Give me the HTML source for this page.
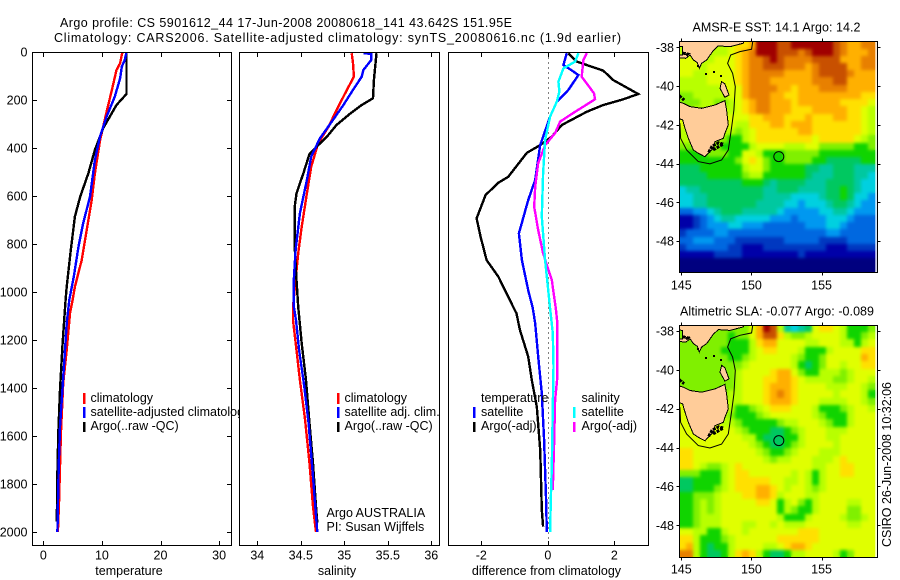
<!DOCTYPE html>
<html lang="en">
<head>
<meta charset="utf-8">
<title>Argo profile chart</title>
<style>
html,body{margin:0;padding:0;background:#fff;}
svg{display:block;}
text{font-family:"Liberation Sans",sans-serif;font-size:12.5px;fill:#000;}
.end{text-anchor:end;}
.mid{text-anchor:middle;}
.frame{fill:none;stroke:#000;stroke-width:1;shape-rendering:crispEdges;}
.bg{fill:#fff;}
.swatch{stroke-width:2.5;shape-rendering:crispEdges;}
</style>
</head>
<body>
<svg id="chart" xmlns="http://www.w3.org/2000/svg" width="900" height="580" viewBox="0 0 900 580">
  <defs>
    <clipPath id="clipTemp"><rect x="32" y="52" width="200" height="494"/></clipPath>
    <clipPath id="clipSal"><rect x="239" y="52" width="201" height="494"/></clipPath>
    <clipPath id="clipDiff"><rect x="448" y="52" width="201" height="494"/></clipPath>
    <clipPath id="clipMapA"><rect x="679.5" y="41.5" width="198" height="231"/></clipPath>
    <clipPath id="clipMapB"><rect x="679.5" y="325.5" width="198" height="232"/></clipPath>
    <filter id="soften" x="-5%" y="-5%" width="110%" height="110%" color-interpolation-filters="sRGB"><feGaussianBlur stdDeviation="1.6"/></filter>
  </defs>
  <rect x="0" y="0" width="900" height="580" fill="#fff"/>

  <text x="60" y="27" textLength="452" lengthAdjust="spacing">Argo profile: CS 5901612_44 17-Jun-2008 20080618_141 43.642S 151.95E</text>
  <text x="54" y="42" textLength="567" lengthAdjust="spacing">Climatology: CARS2006. Satellite-adjusted climatology: synTS_20080616.nc (1.9d earlier)</text>

  <g>
    <rect class="bg" x="32.5" y="52.5" width="199" height="493"/>
    <g id="tempMarks" clip-path="url(#clipTemp)"></g>
    <rect class="frame" x="32.5" y="52.5" width="199" height="493"/>
    <g id="tempAxes"></g>
    <text class="mid" x="129" y="575">temperature</text>
    <g>
      <line class="swatch" x1="84" y1="393" x2="84" y2="404" stroke="#f00"/>
      <text x="90.5" y="402">climatology</text>
      <line class="swatch" x1="84" y1="407" x2="84" y2="418" stroke="#00f"/>
      <text x="90.5" y="416">satellite-adjusted climatology</text>
      <line class="swatch" x1="84" y1="422" x2="84" y2="432" stroke="#000"/>
      <text x="90.5" y="430">Argo(..raw -QC)</text>
    </g>
  </g>

  <g>
    <rect class="bg" x="239.5" y="52.5" width="200" height="493"/>
    <g id="salMarks" clip-path="url(#clipSal)"></g>
    <rect class="frame" x="239.5" y="52.5" width="200" height="493"/>
    <g id="salAxes"></g>
    <text class="mid" x="337" y="575">salinity</text>
    <g>
      <line class="swatch" x1="338" y1="393" x2="338" y2="404" stroke="#f00"/>
      <text x="344.5" y="402">climatology</text>
      <line class="swatch" x1="338" y1="407" x2="338" y2="418" stroke="#00f"/>
      <text x="344.5" y="416">satellite adj. clim.</text>
      <line class="swatch" x1="338" y1="422" x2="338" y2="432" stroke="#000"/>
      <text x="344.5" y="430">Argo(..raw -QC)</text>
    </g>
    <text x="326.5" y="517">Argo AUSTRALIA</text>
    <text x="326.5" y="531">PI: Susan Wijffels</text>
  </g>

  <g>
    <rect class="bg" x="448.5" y="52.5" width="200" height="493"/>
    <g id="diffMarks" clip-path="url(#clipDiff)"></g>
    <rect class="frame" x="448.5" y="52.5" width="200" height="493"/>
    <g id="diffAxes"></g>
    <text class="mid" x="546.5" y="575">difference from climatology</text>
    <g>
      <text x="481" y="402">temperature</text>
      <line class="swatch" x1="474" y1="407" x2="474" y2="418" stroke="#00f"/>
      <text x="481" y="416">satellite</text>
      <line class="swatch" x1="474" y1="422" x2="474" y2="432" stroke="#000"/>
      <text x="481" y="430">Argo(-adj)</text>
      <text x="581.5" y="402">salinity</text>
      <line class="swatch" x1="574" y1="407" x2="574" y2="418" stroke="#0ff"/>
      <text x="581.5" y="416">satellite</text>
      <line class="swatch" x1="574" y1="422" x2="574" y2="432" stroke="#f0f"/>
      <text x="581.5" y="430">Argo(-adj)</text>
    </g>
  </g>

  <g>
    <text class="mid" x="776.5" y="31.5" textLength="168" lengthAdjust="spacing">AMSR-E SST: 14.1 Argo: 14.2</text>
    <g id="mapA" clip-path="url(#clipMapA)"></g>
    <rect class="frame" x="679.5" y="41.5" width="198" height="231"/>
    <g id="mapAAxes"></g>
  </g>

  <g>
    <text class="mid" x="777" y="315.5" textLength="194" lengthAdjust="spacing">Altimetric SLA: -0.077 Argo: -0.089</text>
    <g id="mapB" clip-path="url(#clipMapB)"></g>
    <rect class="frame" x="679.5" y="325.5" width="198" height="232"/>
    <g id="mapBAxes"></g>
  </g>

  <text transform="translate(891,547) rotate(-90)" textLength="165" lengthAdjust="spacing">CSIRO 26-Jun-2008 10:32:06</text>
</svg>

<script>
// ---------- Temperature profiles ----------
const tempClimDepth = [0,47,75,158,249,367,505,617,728,867,978,1033,1089,1242,1380,1589,1867,2000];
const tempClimValues = [13.5,13.1,12.5,11.7,10.8,9.7,8.8,8.26,7.5,6.55,5.4,5.0,4.55,4.0,3.4,3.0,2.7,2.5];
const tempSatDepth = [0,33,61,110,186,269,351,450,603,714,811,936,1033,1131,1242,1395,1561,1728,2000];
const tempSatValues = [14.2,13.9,13.4,13.1,12.2,10.8,9.7,8.8,7.97,6.8,6.0,5.2,4.44,4.0,3.7,3.3,2.85,2.63,2.4];
const tempArgoDepth = [5,175,221,318,408,505,603,686,825,978,1033,1213,1408,1589,1755,1957];
const tempArgoValues = [14.2,14.2,12.5,10.2,8.8,7.7,6.3,5.4,4.7,4.0,3.8,3.3,2.85,2.56,2.4,2.3];

// ---------- Salinity profiles ----------
const salClimDepth = [5,46,103,158,242,311,380,478,589,728,839,950,1061,1117,1242,1367,1533,1714,1894,2000];
const salClimValues = [35.085,35.1,35.11,35.03,34.91,34.82,34.7,34.62,34.57,34.51,34.47,34.44,34.41,34.41,34.45,34.49,34.55,34.6,34.64,34.675];
const salSatDepth = [5,8,33,75,103,158,221,283,360,436,533,672,825,950,1061,1117,1242,1394,1547,1769,2000];
const salSatValues = [35.22,35.31,35.31,35.22,35.2,35.1,34.99,34.87,34.72,34.62,34.57,34.49,34.44,34.42,34.42,34.445,34.48,34.54,34.59,34.64,34.69];
const salArgoDepth = [5,117,193,221,256,304,353,388,425,505,589,645,811,950,1061,1214,1367,1547,1714,1894,1960];
const salArgoValues = [35.37,35.34,35.33,35.2,35.07,34.91,34.8,34.7,34.6,34.53,34.45,34.43,34.43,34.45,34.47,34.51,34.56,34.6,34.64,34.675,34.69];

// ---------- Differences from climatology ----------
const diffTempArgoDepth = [5,40,54,78,117,175,197,221,249,304,353,388,420,520,545,596,693,770,867,936,1068,1089,1158,1269,1367,1478,1658,1908,1978];
const diffTempArgoValues = [0.62,0.87,1.17,1.67,1.97,2.72,2.27,1.67,1.17,0.42,0.12,-0.23,-0.63,-1.19,-1.49,-1.87,-2.14,-2.02,-1.84,-1.49,-1.02,-0.94,-0.84,-0.59,-0.48,-0.33,-0.23,-0.18,-0.14];
const diffTempSatDepth = [5,54,72,96,158,207,269,388,533,617,756,867,992,1068,1131,1269,1422,1617,1867,2000];
const diffTempSatValues = [0.57,0.47,0.67,0.92,0.62,0.27,0.07,-0.23,-0.38,-0.59,-0.87,-0.78,-0.59,-0.45,-0.38,-0.29,-0.18,-0.11,-0.05,-0.03];
const diffSalArgoDepth = [5,33,103,172,197,249,290,338,388,463,561,645,742,839,950,1068,1131,1353,1450,1631,1825];
const diffSalArgoValues = [1.17,1.07,1.02,1.39,1.42,0.82,0.37,0.22,-0.08,-0.29,-0.38,-0.41,-0.29,-0.14,0.12,0.24,0.29,0.29,0.22,0.19,0.15];
const diffSalSatDepth = [5,40,68,124,165,207,269,367,505,686,867,1068,1172,1311,1478,1728,1867,2000];
const diffSalSatValues = [0.92,0.82,0.47,0.32,0.35,0.27,0.07,-0.08,-0.14,-0.18,-0.08,0.07,0.15,0.17,0.15,0.12,0.09,0.07];

// ---------- Axis tick labels ----------
const depthTicks = [0,200,400,600,800,1000,1200,1400,1600,1800,2000];
const tempTicks = [0,10,20,30];
const salTicks = [34,34.5,35,35.5,36];
const diffTicks = [-2,0,2];
const lonTicks = [145,150,155];
const latTicks = [38,40,42,44,46,48];

// ---------- Float position ----------
const floatLon = [151.95];
const floatLat = [43.642];

// ---------- SST heatmap cells (colour levels, north to south) ----------
const sstValues = [
[10,10,10,10,10,10,10,11,12,12,13,16,16,16,15,15,16,16,16,16,16,16,15,14,13,13,14,14],
[10,10,10,10,10,10,10,11,12,13,14,16,16,16,15,15,15,14,15,16,16,16,15,14,13,13,13,14],
[11,11,11,10,10,11,11,11,12,13,14,14,15,16,15,14,14,14,14,15,15,15,15,13,13,13,14,14],
[11,11,11,10,11,11,11,11,12,13,14,14,15,15,15,14,14,14,13,14,15,15,15,15,13,13,14,14],
[11,11,10,10,11,11,11,11,12,13,14,14,14,14,14,13,13,13,13,14,15,15,15,15,14,13,13,13],
[10,10,10,10,11,11,11,11,12,13,14,14,14,13,13,13,13,13,13,14,14,14,15,15,13,13,13,13],
[10,10,10,10,10,10,11,11,11,13,14,14,14,14,13,13,12,13,13,13,14,14,14,14,13,13,13,13],
[9,9,10,10,10,10,10,11,11,13,14,14,14,13,13,12,12,13,13,13,13,13,13,13,13,13,12,12],
[9,9,9,10,10,9,9,10,11,12,13,14,14,13,13,13,12,13,13,13,13,13,13,12,12,12,12,11],
[9,9,10,10,10,10,10,10,11,12,13,14,14,13,13,13,12,12,12,13,13,13,13,13,12,12,11,10],
[11,11,11,11,11,11,11,11,11,11,12,12,13,13,13,12,12,12,13,12,12,12,13,13,12,12,11,10],
[11,10,10,11,11,11,11,11,10,10,12,12,12,13,13,12,13,13,13,12,12,12,12,12,12,12,11,10],
[10,10,10,10,11,11,10,10,9,10,11,12,12,12,12,12,12,13,13,12,12,12,12,12,12,12,11,10],
[10,10,10,10,10,10,9,8,8,10,11,12,12,12,12,12,12,12,12,11,12,12,12,12,12,11,10,9],
[9,9,9,9,9,9,8,8,8,8,10,11,11,11,11,10,10,10,11,11,9,9,9,9,9,8,8,9],
[8,8,8,8,9,9,9,8,8,11,11,10,8,8,8,9,9,9,9,9,8,8,8,8,8,8,8,8],
[8,8,8,8,8,8,8,8,9,11,12,11,9,8,8,9,9,9,9,8,8,7,7,7,7,7,8,8],
[7,7,7,8,8,8,8,8,8,10,11,11,9,8,8,8,8,8,7,7,6,6,7,7,7,6,6,6],
[7,7,7,7,8,8,8,8,8,9,10,10,8,8,8,8,8,8,7,6,6,6,7,7,7,6,6,5],
[7,7,7,7,7,7,7,7,7,8,8,8,7,6,7,7,7,7,6,6,6,7,7,7,7,6,5,5],
[5,6,6,7,7,7,7,7,7,7,7,7,6,6,7,7,7,6,6,6,6,7,7,8,7,6,5,5],
[5,5,6,6,7,7,7,7,7,7,7,7,6,6,6,6,5,5,5,5,6,7,7,8,7,5,5,4],
[5,5,6,6,7,7,7,7,7,7,7,6,6,6,6,5,5,4,5,5,5,6,7,7,6,5,4,4],
[3,3,4,4,5,6,7,7,7,6,6,6,6,6,5,4,4,4,4,4,5,5,6,6,5,4,4,4],
[1,1,2,3,4,5,6,6,5,5,5,5,5,4,4,4,3,4,4,4,4,5,5,5,4,3,3,3],
[1,1,2,3,4,4,4,5,5,4,4,4,3,3,3,3,3,3,4,4,4,5,5,4,3,3,3,3],
[2,3,3,3,3,4,4,3,3,3,3,3,3,3,3,3,3,3,3,3,3,4,4,3,3,3,3,3],
[3,3,4,4,4,3,3,3,2,2,2,2,2,2,2,3,3,3,3,3,2,2,2,2,3,3,3,3],
[2,3,3,3,3,3,3,2,2,1,1,1,2,2,2,2,2,2,2,2,2,1,1,1,2,2,2,2],
[1,1,1,1,1,2,2,2,2,1,1,1,1,1,1,1,1,2,1,1,1,1,1,1,1,1,1,1],
[0,0,0,0,0,0,0,0,0,0,0,0,0,0,0,0,0,0,0,0,0,0,0,0,0,0,0,0],
[0,0,0,0,0,0,0,0,0,0,0,0,0,0,0,0,0,0,0,0,0,0,0,0,0,0,0,0]
];

// ---------- SLA heatmap cells (colour levels, north to south) ----------
const slaValues = [
[9,9,9,9,9,9,9,9,9,9,11,13,16,15,10,6,5,6,7,11,12,12,11,10,8,8,8,9],
[9,9,9,9,9,9,9,8,9,9,11,13,15,15,12,10,9,9,10,11,11,11,11,10,8,8,9,10],
[9,9,9,9,9,9,9,8,8,8,10,12,13,13,11,11,11,11,10,10,11,11,11,10,10,8,10,11],
[9,9,9,9,9,9,8,8,8,8,10,11,12,12,11,11,11,10,8,8,8,10,11,11,11,11,12,12],
[9,9,9,9,9,9,9,8,8,9,10,11,11,11,11,11,10,9,8,8,9,11,11,11,11,11,13,12],
[9,9,9,9,9,9,9,9,9,10,11,11,11,11,11,11,10,8,7,8,9,11,11,10,11,11,12,12],
[9,9,9,9,9,9,9,9,10,11,11,11,11,12,13,13,11,9,8,8,10,10,10,9,10,11,11,11],
[9,9,9,9,9,9,9,9,10,11,11,11,12,12,13,13,12,11,10,10,10,10,9,9,10,11,11,10],
[9,9,9,9,9,9,9,9,10,11,11,11,12,13,13,13,12,11,11,11,11,10,10,10,11,11,10,9],
[9,9,9,9,9,9,9,10,10,11,11,11,12,13,14,13,12,11,11,11,11,11,10,11,11,11,10,8],
[10,9,9,9,9,9,10,10,10,11,11,11,12,13,13,13,12,11,11,11,10,10,10,10,11,11,10,9],
[11,11,11,11,11,11,11,10,8,8,9,10,11,12,12,12,11,11,11,10,8,8,8,9,10,11,11,10],
[11,11,11,11,11,11,10,9,8,8,8,9,10,11,11,11,11,11,11,10,9,8,8,8,10,11,11,11],
[11,11,11,11,11,11,10,10,9,8,8,8,8,8,9,10,10,11,11,11,10,9,8,8,10,11,11,11],
[11,11,11,11,11,11,11,11,10,9,8,8,8,7,7,8,9,10,11,11,11,10,10,10,11,11,11,11],
[11,11,11,11,11,11,11,11,11,10,10,8,7,7,7,8,8,10,11,11,11,10,10,11,11,11,11,11],
[11,11,11,11,11,11,11,11,11,11,10,9,8,7,7,8,9,10,11,11,11,11,10,11,11,11,11,11],
[12,12,11,11,11,11,11,11,11,11,11,10,9,8,8,9,10,11,11,11,10,10,10,11,11,11,11,11],
[12,12,11,11,11,11,11,11,11,11,11,11,10,9,10,10,11,11,11,10,10,10,11,12,11,11,11,11],
[12,12,11,10,9,9,10,11,12,11,11,11,11,11,11,11,11,11,11,10,10,11,11,12,12,11,11,11],
[9,9,9,8,8,8,10,11,12,12,11,11,11,11,11,11,10,11,10,8,10,11,11,12,12,11,11,11],
[7,7,8,8,8,8,10,11,12,12,12,12,12,11,11,10,10,11,10,8,10,11,11,11,11,11,11,11],
[7,7,8,8,8,9,10,11,12,12,12,13,13,12,11,10,11,11,10,9,10,11,11,11,11,11,11,11],
[8,8,9,9,9,10,11,11,11,12,12,13,13,12,10,11,11,11,10,10,11,11,11,11,11,11,11,11],
[8,8,9,10,9,10,11,11,11,11,11,12,12,11,8,10,11,9,8,10,11,11,11,11,10,10,11,11],
[8,8,9,10,9,10,11,11,11,11,11,11,11,11,8,10,9,8,8,10,11,11,11,11,9,9,11,11],
[8,8,9,10,10,10,11,11,11,11,11,11,11,11,10,8,8,8,10,11,11,11,11,10,9,9,10,11],
[8,8,9,10,10,10,11,11,11,10,10,11,11,10,11,10,10,10,11,11,11,11,11,11,10,10,11,11],
[11,11,10,10,8,8,10,11,11,10,11,11,11,11,11,11,11,12,12,12,11,11,11,11,11,11,11,11],
[12,12,10,8,8,8,9,10,11,11,11,11,11,11,12,12,12,12,12,12,11,11,11,11,11,11,11,11],
[12,13,10,8,7,8,8,10,11,11,11,11,10,10,11,12,13,13,12,11,11,11,11,11,11,11,11,11],
[14,14,10,8,7,7,8,10,12,13,12,10,8,7,7,8,10,10,11,11,11,11,10,8,9,11,11,11]
];

// ---------- Geography (degrees east / degrees south) ----------
const victoriaLon = [144.5,149.54,149.42,148.47,147.64,147.28,146.81,146.45,146.28,146.14,145.86,145.62,145.33,144.5,144.5,145.10,145.10,144.5];
const victoriaLat = [37.5,37.5,37.79,37.97,37.93,38.17,38.65,38.83,39.08,38.79,38.65,38.40,38.57,38.52,38.40,38.40,37.97,37.93];
const tasmaniaLon = [144.5,145.14,145.62,146.45,147.40,148.11,148.23,148.35,148.11,148.0,147.4,147.28,146.92,146.69,146.21,145.86,145.5,145.19,145.10,144.5];
const tasmaniaLat = [40.75,40.89,41.06,41.15,40.98,40.75,41.24,42.01,42.44,42.70,42.87,43.22,43.47,43.65,43.47,43.30,42.70,42.01,41.75,41.6];
const flindersLon = [147.87,148.11,148.40,148.11,147.76];
const flindersLat = [39.77,39.89,40.46,40.58,40.12];
const shelfLon = [150.13,150.01,149.18,148.52,148.30,148.66,148.85,148.75,148.59,148.35,147.87,147.04,146.21,145.38,144.95,144.9];
const shelfLat = [37.5,38.10,38.22,38.40,38.83,39.34,40.03,41.24,42.10,43.30,43.82,44.02,43.90,43.30,42.70,41.92];
const rockyCoastLon = [146.95,147.2,147.65,148.0,147.6,147.25];
const rockyCoastLat = [43.42,43.1,42.93,43.0,43.15,43.3];
const bayCoastLon = [145.1,145.45,145.3];
const bayCoastLat = [38.3,38.35,38.45];
const northWestCoastLon = [144.86,145.2];
const northWestCoastLat = [40.5,40.72];
const isletLon = [146.75,147.3,147.8,146.2];
const isletLat = [39.4,39.3,39.5,38.95];

// ---------- Axis functions ----------
function yDepth(d){return 52+0.24*d;}
function xTemp(v){return 43.3+5.86*v;}
function xSal(v){return 257.3+87*(v-34);}
function xDiff(v){return 547.8+33.25*v;}
function xLon(lon){return 681.3+14.03*(lon-145);}
function yLatA(lat){return 47.3+19.37*(lat-38);}
function yLatB(lat){return 331+19.43*(lat-38);}

const SVGNS = 'http://www.w3.org/2000/svg';
function el(tag, parent){
  const node = document.createElementNS(SVGNS, tag);
  parent.appendChild(node);
  return node;
}
function drawLine(parent, x1, y1, x2, y2, name){
  const line = el('line', parent);
  line.setAttribute('x1', x1);
  line.setAttribute('y1', y1);
  line.setAttribute('x2', x2);
  line.setAttribute('y2', y2);
  line.setAttribute('stroke', '#000');
  line.setAttribute('stroke-width', 1);
  line.setAttribute('shape-rendering', 'crispEdges');
  
  
  return line;
}
function drawLabel(parent, x, y, str, cls, name){
  const t = el('text', parent);
  t.setAttribute('x', x);
  t.setAttribute('y', y);
  t.setAttribute('class', cls);
  t.textContent = str;
  
  
  return t;
}
function drawProfile(parent, values, depths, xFn, color, name){
  const poly = el('polyline', parent);
  poly.setAttribute('points', values.map(function(v,i){return xFn(v).toFixed(1)+','+yDepth(depths[i]).toFixed(1);}).join(' '));
  poly.setAttribute('fill', 'none');
  poly.setAttribute('stroke', color);
  poly.setAttribute('stroke-width', 2.4);
  poly.setAttribute('shape-rendering', 'crispEdges');
  
  
}
function xTicksInward(parent, ticks, xFn, prefix){
  ticks.forEach(function(t){
    const x = Math.round(xFn(t))+0.5;
    drawLine(parent, x, 52.5, x, 57, prefix+'-top-tick');
    drawLine(parent, x, 541, x, 545.5, prefix+'-bottom-tick');
    drawLabel(parent, xFn(t), 559.5, String(t), 'mid', prefix+'-tick-label');
  });
}

// ---------- Profile panels ----------
const tempMarks = document.getElementById('tempMarks');
drawProfile(tempMarks, tempClimValues, tempClimDepth, xTemp, '#f00', 'temperature-climatology-line');
drawProfile(tempMarks, tempArgoValues, tempArgoDepth, xTemp, '#000', 'temperature-argo-line');
drawProfile(tempMarks, tempSatValues, tempSatDepth, xTemp, '#00f', 'temperature-satellite-line');

const salMarks = document.getElementById('salMarks');
drawProfile(salMarks, salClimValues, salClimDepth, xSal, '#f00', 'salinity-climatology-line');
drawProfile(salMarks, salArgoValues, salArgoDepth, xSal, '#000', 'salinity-argo-line');
drawProfile(salMarks, salSatValues, salSatDepth, xSal, '#00f', 'salinity-satellite-line');

const diffMarks = document.getElementById('diffMarks');
const zeroLine = drawLine(diffMarks, Math.round(xDiff(0))+0.5, 52.5, Math.round(xDiff(0))+0.5, 545.5, 'zero-reference-line');
zeroLine.setAttribute('stroke-dasharray', '1 4');
drawProfile(diffMarks, diffTempArgoValues, diffTempArgoDepth, xDiff, '#000', 'difference-temperature-argo-line');
drawProfile(diffMarks, diffTempSatValues, diffTempSatDepth, xDiff, '#00f', 'difference-temperature-satellite-line');
drawProfile(diffMarks, diffSalArgoValues, diffSalArgoDepth, xDiff, '#f0f', 'difference-salinity-argo-line');
drawProfile(diffMarks, diffSalSatValues, diffSalSatDepth, xDiff, '#0ff', 'difference-salinity-satellite-line');

const tempAxes = document.getElementById('tempAxes');
xTicksInward(tempAxes, tempTicks, xTemp, 'temperature-x');
depthTicks.forEach(function(d){
  const y = Math.round(yDepth(d))+0.5;
  drawLine(tempAxes, 32.5, y, 37, y, 'depth-left-tick');
  drawLine(tempAxes, 227, y, 231.5, y, 'depth-right-tick');
  drawLabel(tempAxes, 27.5, yDepth(d)+4.5, String(d), 'end', 'depth-tick-label');
});
xTicksInward(document.getElementById('salAxes'), salTicks, xSal, 'salinity-x');
xTicksInward(document.getElementById('diffAxes'), diffTicks, xDiff, 'difference-x');

// ---------- Maps ----------
const cellLonStart = 144.86;
const cellLonStep = 0.499;
const cellLatStart = 37.69;
const cellLatStep = 0.3735;
const palette = ['#00007f','#0000a8','#0038c0','#0068e0','#0098f0','#00d0e0','#00c8a0','#00c860','#10d400','#80f000','#b8ff00','#e0ff00','#ffe000','#ffb000','#e88000','#c85000','#a00000'];

function pathFrom(lons, lats, yFn, closed){
  return lons.map(function(lon,i){return (i?'L':'M')+xLon(lon).toFixed(1)+' '+yFn(lats[i]).toFixed(1);}).join(' ')+(closed?' Z':'');
}
function drawMap(group, values, yFn, prefix){
  const cells = el('g', group);
  cells.setAttribute('id', prefix+'Cells');
  
  
  values.forEach(function(row, r){
    const y0 = Math.round(yFn(cellLatStart+r*cellLatStep));
    const y1 = Math.round(yFn(cellLatStart+(r+1)*cellLatStep));
    row.forEach(function(level, c){
      const x0 = Math.round(xLon(cellLonStart+c*cellLonStep));
      const x1 = Math.round(xLon(cellLonStart+(c+1)*cellLonStep));
      const cell = el('rect', cells);
      cell.setAttribute('x', x0);
      cell.setAttribute('y', y0);
      cell.setAttribute('width', x1-x0);
      cell.setAttribute('height', y1-y0);
      cell.setAttribute('fill', palette[level]);
      cell.setAttribute('shape-rendering', 'crispEdges');
      
      
    });
  });
  const softened = el('use', group);
  softened.setAttribute('href', '#'+prefix+'Cells');
  softened.setAttribute('filter', 'url(#soften)');
  
  
  const lands = [[victoriaLon,victoriaLat,'victoria-land'],[tasmaniaLon,tasmaniaLat,'tasmania-land'],[flindersLon,flindersLat,'flinders-island']];
  lands.forEach(function(item){
    const land = el('path', group);
    land.setAttribute('d', pathFrom(item[0], item[1], yFn, true));
    land.setAttribute('fill', '#ffcc99');
    land.setAttribute('stroke', '#000');
    land.setAttribute('stroke-width', 1);
    land.setAttribute('shape-rendering', 'crispEdges');
    
    
  });
  const rugged = [[rockyCoastLon,rockyCoastLat,'tasmania-rocky-coast'],[bayCoastLon,bayCoastLat,'port-phillip-coast'],[northWestCoastLon,northWestCoastLat,'north-west-coast']];
  rugged.forEach(function(item){
    const coast = el('path', group);
    coast.setAttribute('d', pathFrom(item[0], item[1], yFn, false));
    coast.setAttribute('fill', 'none');
    coast.setAttribute('stroke', '#000');
    coast.setAttribute('stroke-width', 3);
    coast.setAttribute('stroke-dasharray', '3 1');
    coast.setAttribute('shape-rendering', 'crispEdges');
    
    
  });
  isletLon.forEach(function(lon, i){
    const dot = el('rect', group);
    dot.setAttribute('x', Math.round(xLon(lon))-1);
    dot.setAttribute('y', Math.round(yFn(isletLat[i]))-1);
    dot.setAttribute('width', 2);
    dot.setAttribute('height', 2);
    dot.setAttribute('fill', '#000');
    
    
  });
  const shelf = el('path', group);
  shelf.setAttribute('d', pathFrom(shelfLon, shelfLat, yFn, false));
  shelf.setAttribute('fill', 'none');
  shelf.setAttribute('stroke', '#000');
  shelf.setAttribute('stroke-width', 1);
  
  
  const marker = el('circle', group);
  marker.setAttribute('cx', xLon(floatLon[0]));
  marker.setAttribute('cy', yFn(floatLat[0]));
  marker.setAttribute('r', 5);
  marker.setAttribute('fill', 'none');
  marker.setAttribute('stroke', '#000');
  marker.setAttribute('stroke-width', 1);
  
  
}
function drawMapAxes(group, yFn, top, bottom, labelY, prefix){
  lonTicks.forEach(function(lon){
    const x = Math.round(xLon(lon))+0.5;
    drawLine(group, x, top-3, x, top, prefix+'-top-tick');
    drawLine(group, x, bottom, x, bottom+3, prefix+'-bottom-tick');
    drawLabel(group, xLon(lon), labelY, String(lon), 'mid', prefix+'-lon-label');
  });
  latTicks.forEach(function(lat){
    const y = Math.round(yFn(lat))+0.5;
    drawLine(group, 676.5, y, 679.5, y, prefix+'-left-tick');
    drawLine(group, 877.5, y, 880.5, y, prefix+'-right-tick');
    drawLabel(group, 674, yFn(lat)+4.5, '-'+lat, 'end', prefix+'-lat-label');
  });
}
drawMap(document.getElementById('mapA'), sstValues, yLatA, 'sst');
drawMap(document.getElementById('mapB'), slaValues, yLatB, 'sla');
drawMapAxes(document.getElementById('mapAAxes'), yLatA, 41.5, 272.5, 289.5, 'sst-map');
drawMapAxes(document.getElementById('mapBAxes'), yLatB, 325.5, 557.5, 573.5, 'sla-map');
</script>
</body>
</html>
